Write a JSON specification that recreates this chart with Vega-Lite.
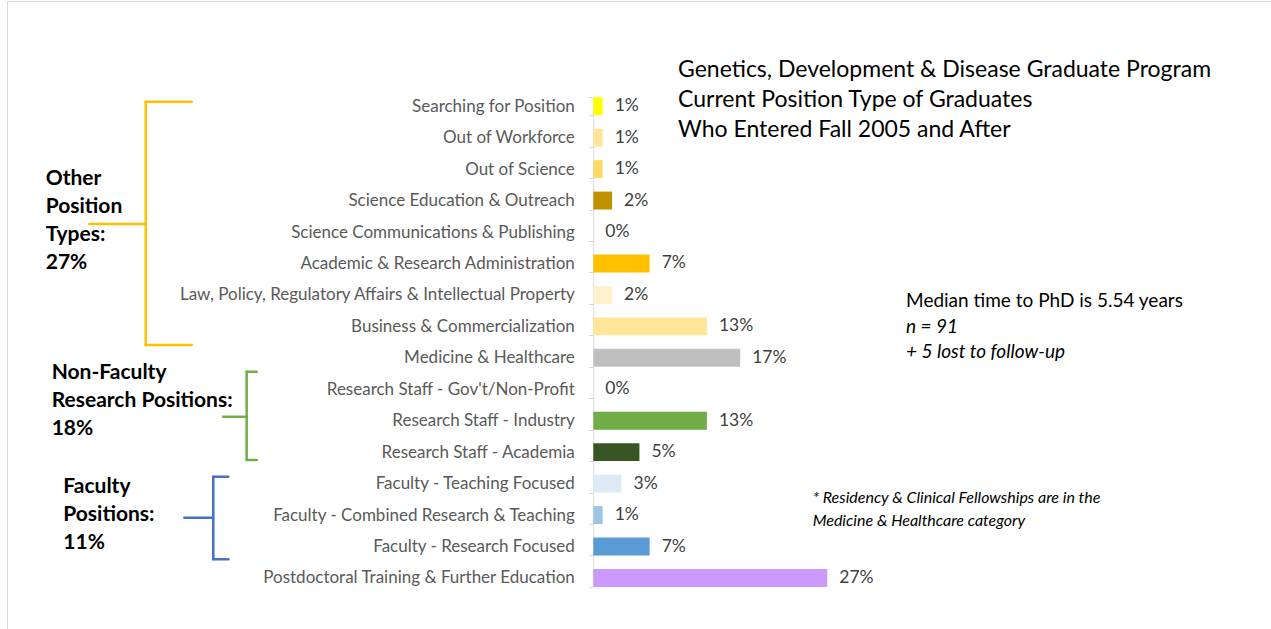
{
  "$schema": "https://vega.github.io/schema/vega-lite/v6.json",
  "width": 1264,
  "height": 628,
  "autosize": {"type": "none"},
  "padding": {"left": 7, "top": 1, "right": 0, "bottom": 0},
  "background": "white",
  "config": {"view": {"stroke": "#D9D9D9", "strokeWidth": 1}, "font": "Lato"},
  "datasets": {
    "positions": [
      {"category": "Searching for Position", "share": 0.011},
      {"category": "Out of Workforce", "share": 0.011},
      {"category": "Out of Science", "share": 0.011},
      {"category": "Science Education & Outreach", "share": 0.022},
      {"category": "Science Communications & Publishing", "share": 0},
      {"category": "Academic & Research Administration", "share": 0.066},
      {"category": "Law, Policy, Regulatory Affairs & Intellectual Property", "share": 0.022},
      {"category": "Business & Commercialization", "share": 0.133},
      {"category": "Medicine & Healthcare", "share": 0.172},
      {"category": "Research Staff - Gov't/Non-Profit", "share": 0},
      {"category": "Research Staff - Industry", "share": 0.133},
      {"category": "Research Staff - Academia", "share": 0.054},
      {"category": "Faculty - Teaching Focused", "share": 0.033},
      {"category": "Faculty - Combined Research & Teaching", "share": 0.011},
      {"category": "Faculty - Research Focused", "share": 0.066},
      {"category": "Postdoctoral Training & Further Education", "share": 0.274}
    ],
    "groups": [
      {"key": "other", "lines": ["Other", "Position", "Types:", "27%"], "top": "Searching for Position", "mid": "Science Communications & Publishing", "bottom": "Business & Commercialization"},
      {"key": "nonfaculty", "lines": ["Non-Faculty", "Research Positions:", "18%"], "top": "Research Staff - Gov't/Non-Profit", "mid": "Research Staff - Industry", "bottom": "Research Staff - Academia"},
      {"key": "faculty", "lines": ["Faculty", "Positions:", "11%"], "top": "Faculty - Teaching Focused", "mid": "Faculty - Combined Research & Teaching", "bottom": "Faculty - Research Focused"}
    ],
    "notes": [
      {"id": "title", "note": ["Genetics, Development & Disease Graduate Program", "Current Position Type of Graduates", "Who Entered Fall 2005 and After"], "row": "Searching for Position"},
      {"id": "median", "note": "Median time to PhD is 5.54 years", "row": "Law, Policy, Regulatory Affairs & Intellectual Property"},
      {"id": "sample", "note": ["n = 91", "+ 5 lost to follow-up"], "row": "Business & Commercialization"},
      {"id": "footnote", "note": ["* Residency & Clinical Fellowships are in the", "Medicine & Healthcare category"], "row": "Faculty - Combined Research & Teaching"}
    ]
  },
  "layer": [
    {
      "data": {"name": "positions"},
      "mark": {"type": "bar"},
      "encoding": {
        "x": {"field": "share", "type": "quantitative", "scale": {"domain": [-0.68653, 0.79356], "nice": false, "zero": false}, "axis": null},
        "x2": {"datum": 0},
        "y": {
          "field": "category", "type": "nominal", "sort": null,
          "scale": {
            "domain": ["Searching for Position", "Out of Workforce", "Out of Science", "Science Education & Outreach", "Science Communications & Publishing", "Academic & Research Administration", "Law, Policy, Regulatory Affairs & Intellectual Property", "Business & Commercialization", "Medicine & Healthcare", "Research Staff - Gov't/Non-Profit", "Research Staff - Industry", "Research Staff - Academia", "Faculty - Teaching Focused", "Faculty - Combined Research & Teaching", "Faculty - Research Focused", "Postdoctoral Training & Further Education"],
            "range": [96.24, 585.92],
            "paddingInner": 0.43, "paddingOuter": 0
          },
          "axis": {
            "title": null, "orient": "left", "offset": -586.3, "labelLimit": 0,
            "labelFont": "Lato", "labelFontSize": 17, "labelColor": "#595959", "labelPadding": 14,
            "domainColor": "#D9D9D9", "tickColor": "#D9D9D9", "tickSize": 5, "tickBand": "extent", "grid": false
          }
        },
        "color": {
          "field": "category", "type": "nominal", "legend": null,
          "scale": {
            "domain": ["Searching for Position", "Out of Workforce", "Out of Science", "Science Education & Outreach", "Science Communications & Publishing", "Academic & Research Administration", "Law, Policy, Regulatory Affairs & Intellectual Property", "Business & Commercialization", "Medicine & Healthcare", "Research Staff - Gov't/Non-Profit", "Research Staff - Industry", "Research Staff - Academia", "Faculty - Teaching Focused", "Faculty - Combined Research & Teaching", "Faculty - Research Focused", "Postdoctoral Training & Further Education"],
            "range": ["#FFFF00", "#FFE699", "#FFD966", "#BF9000", "#FFF2CC", "#FFC000", "#FFF2CC", "#FFE699", "#BFBFBF", "#A9D18E", "#70AD47", "#375623", "#DEEBF7", "#9DC3E6", "#5B9BD5", "#CC99FF"]
          }
        }
      }
    },
    {
      "data": {"name": "positions"},
      "mark": {"type": "text", "align": "left", "baseline": "middle", "dx": 12, "font": "Lato", "fontSize": 17.5, "color": "#404040"},
      "encoding": {
        "x": {"field": "share", "type": "quantitative"},
        "y": {"field": "category", "type": "nominal", "sort": null},
        "text": {"field": "share", "type": "quantitative", "format": ".0%"}
      }
    },
    {
      "data": {"name": "groups"},
      "transform": [{"filter": "datum.key === 'other'"}],
      "layer": [
        {"mark": {"type": "rule", "color": "#FFC000", "strokeWidth": 2.5, "strokeCap": "round", "yOffset": -4.5, "y2Offset": 18.65},
         "encoding": {"x": {"datum": -0.5241}, "y": {"field": "top", "type": "nominal"}, "y2": {"field": "bottom"}}},
        {"mark": {"type": "rule", "color": "#FFC000", "strokeWidth": 2.5, "strokeCap": "round", "yOffset": -4.5},
         "encoding": {"x": {"datum": -0.5241}, "x2": {"datum": -0.4703}, "y": {"field": "top", "type": "nominal"}}},
        {"mark": {"type": "rule", "color": "#FFC000", "strokeWidth": 2.5, "strokeCap": "round", "yOffset": 18.65},
         "encoding": {"x": {"datum": -0.5241}, "x2": {"datum": -0.4703}, "y": {"field": "bottom", "type": "nominal"}}},
        {"mark": {"type": "rule", "color": "#FFC000", "strokeWidth": 2.5, "strokeCap": "round", "yOffset": -8},
         "encoding": {"x": {"datum": -0.5902}, "x2": {"datum": -0.5241}, "y": {"field": "mid", "type": "nominal"}}},
        {"mark": {"type": "text", "align": "left", "baseline": "middle", "dy": -52.7, "font": "Lato", "fontSize": 21, "fontWeight": "bold", "color": "#000000", "lineHeight": 28},
         "encoding": {"x": {"datum": -0.6412}, "y": {"field": "mid", "type": "nominal"}, "text": {"field": "lines"}}}
      ]
    },
    {
      "data": {"name": "groups"},
      "transform": [{"filter": "datum.key === 'nonfaculty'"}],
      "layer": [
        {"mark": {"type": "rule", "color": "#70AD47", "strokeWidth": 2.5, "strokeCap": "round", "yOffset": -17.55, "y2Offset": 7.85},
         "encoding": {"x": {"datum": -0.4059}, "y": {"field": "top", "type": "nominal"}, "y2": {"field": "bottom"}}},
        {"mark": {"type": "rule", "color": "#70AD47", "strokeWidth": 2.5, "strokeCap": "round", "yOffset": -17.55},
         "encoding": {"x": {"datum": -0.4059}, "x2": {"datum": -0.3941}, "y": {"field": "top", "type": "nominal"}}},
        {"mark": {"type": "rule", "color": "#70AD47", "strokeWidth": 2.5, "strokeCap": "round", "yOffset": 7.85},
         "encoding": {"x": {"datum": -0.4059}, "x2": {"datum": -0.3941}, "y": {"field": "bottom", "type": "nominal"}}},
        {"mark": {"type": "rule", "color": "#70AD47", "strokeWidth": 2.5, "strokeCap": "round", "yOffset": -4},
         "encoding": {"x": {"datum": -0.4333}, "x2": {"datum": -0.4059}, "y": {"field": "mid", "type": "nominal"}}},
        {"mark": {"type": "text", "align": "left", "baseline": "middle", "dy": -48, "font": "Lato", "fontSize": 21, "fontWeight": "bold", "color": "#000000", "lineHeight": 28},
         "encoding": {"x": {"datum": -0.6342}, "y": {"field": "mid", "type": "nominal"}, "text": {"field": "lines"}}}
      ]
    },
    {
      "data": {"name": "groups"},
      "transform": [{"filter": "datum.key === 'faculty'"}],
      "layer": [
        {"mark": {"type": "rule", "color": "#4472C4", "strokeWidth": 2.5, "strokeCap": "round", "yOffset": -6.9, "y2Offset": 12.8},
         "encoding": {"x": {"datum": -0.445}, "y": {"field": "top", "type": "nominal"}, "y2": {"field": "bottom"}}},
        {"mark": {"type": "rule", "color": "#4472C4", "strokeWidth": 2.5, "strokeCap": "round", "yOffset": -6.9},
         "encoding": {"x": {"datum": -0.445}, "x2": {"datum": -0.4274}, "y": {"field": "top", "type": "nominal"}}},
        {"mark": {"type": "rule", "color": "#4472C4", "strokeWidth": 2.5, "strokeCap": "round", "yOffset": 12.8},
         "encoding": {"x": {"datum": -0.445}, "x2": {"datum": -0.4274}, "y": {"field": "bottom", "type": "nominal"}}},
        {"mark": {"type": "rule", "color": "#4472C4", "strokeWidth": 2.5, "strokeCap": "round", "yOffset": 2.65},
         "encoding": {"x": {"datum": -0.4789}, "x2": {"datum": -0.445}, "y": {"field": "mid", "type": "nominal"}}},
        {"mark": {"type": "text", "align": "left", "baseline": "middle", "dy": -28.35, "font": "Lato", "fontSize": 21, "fontWeight": "bold", "color": "#000000", "lineHeight": 28},
         "encoding": {"x": {"datum": -0.6206}, "y": {"field": "mid", "type": "nominal"}, "text": {"field": "lines"}}}
      ]
    },
    {
      "data": {"name": "notes"},
      "transform": [{"filter": "datum.id === 'title'"}],
      "mark": {"type": "text", "align": "left", "baseline": "middle", "dy": -36.2, "font": "Lato", "fontSize": 23, "color": "#000000", "lineHeight": 30},
      "encoding": {"x": {"datum": 0.0992}, "y": {"field": "row", "type": "nominal"}, "text": {"field": "note"}}
    },
    {
      "data": {"name": "notes"},
      "transform": [{"filter": "datum.id === 'median'"}],
      "mark": {"type": "text", "align": "left", "baseline": "middle", "dy": 5.8, "font": "Lato", "fontSize": 19, "color": "#000000"},
      "encoding": {"x": {"datum": 0.3662}, "y": {"field": "row", "type": "nominal"}, "text": {"field": "note"}}
    },
    {
      "data": {"name": "notes"},
      "transform": [{"filter": "datum.id === 'sample'"}],
      "mark": {"type": "text", "align": "left", "baseline": "middle", "dy": 0.35, "font": "Lato", "fontSize": 19, "fontStyle": "italic", "color": "#000000", "lineHeight": 25},
      "encoding": {"x": {"datum": 0.3662}, "y": {"field": "row", "type": "nominal"}, "text": {"field": "note"}}
    },
    {
      "data": {"name": "notes"},
      "transform": [{"filter": "datum.id === 'footnote'"}],
      "mark": {"type": "text", "align": "left", "baseline": "middle", "dy": -17.05, "font": "Lato", "fontSize": 16, "fontStyle": "italic", "color": "#000000", "lineHeight": 22.7},
      "encoding": {"x": {"datum": 0.2569}, "y": {"field": "row", "type": "nominal"}, "text": {"field": "note"}}
    }
  ]
}
